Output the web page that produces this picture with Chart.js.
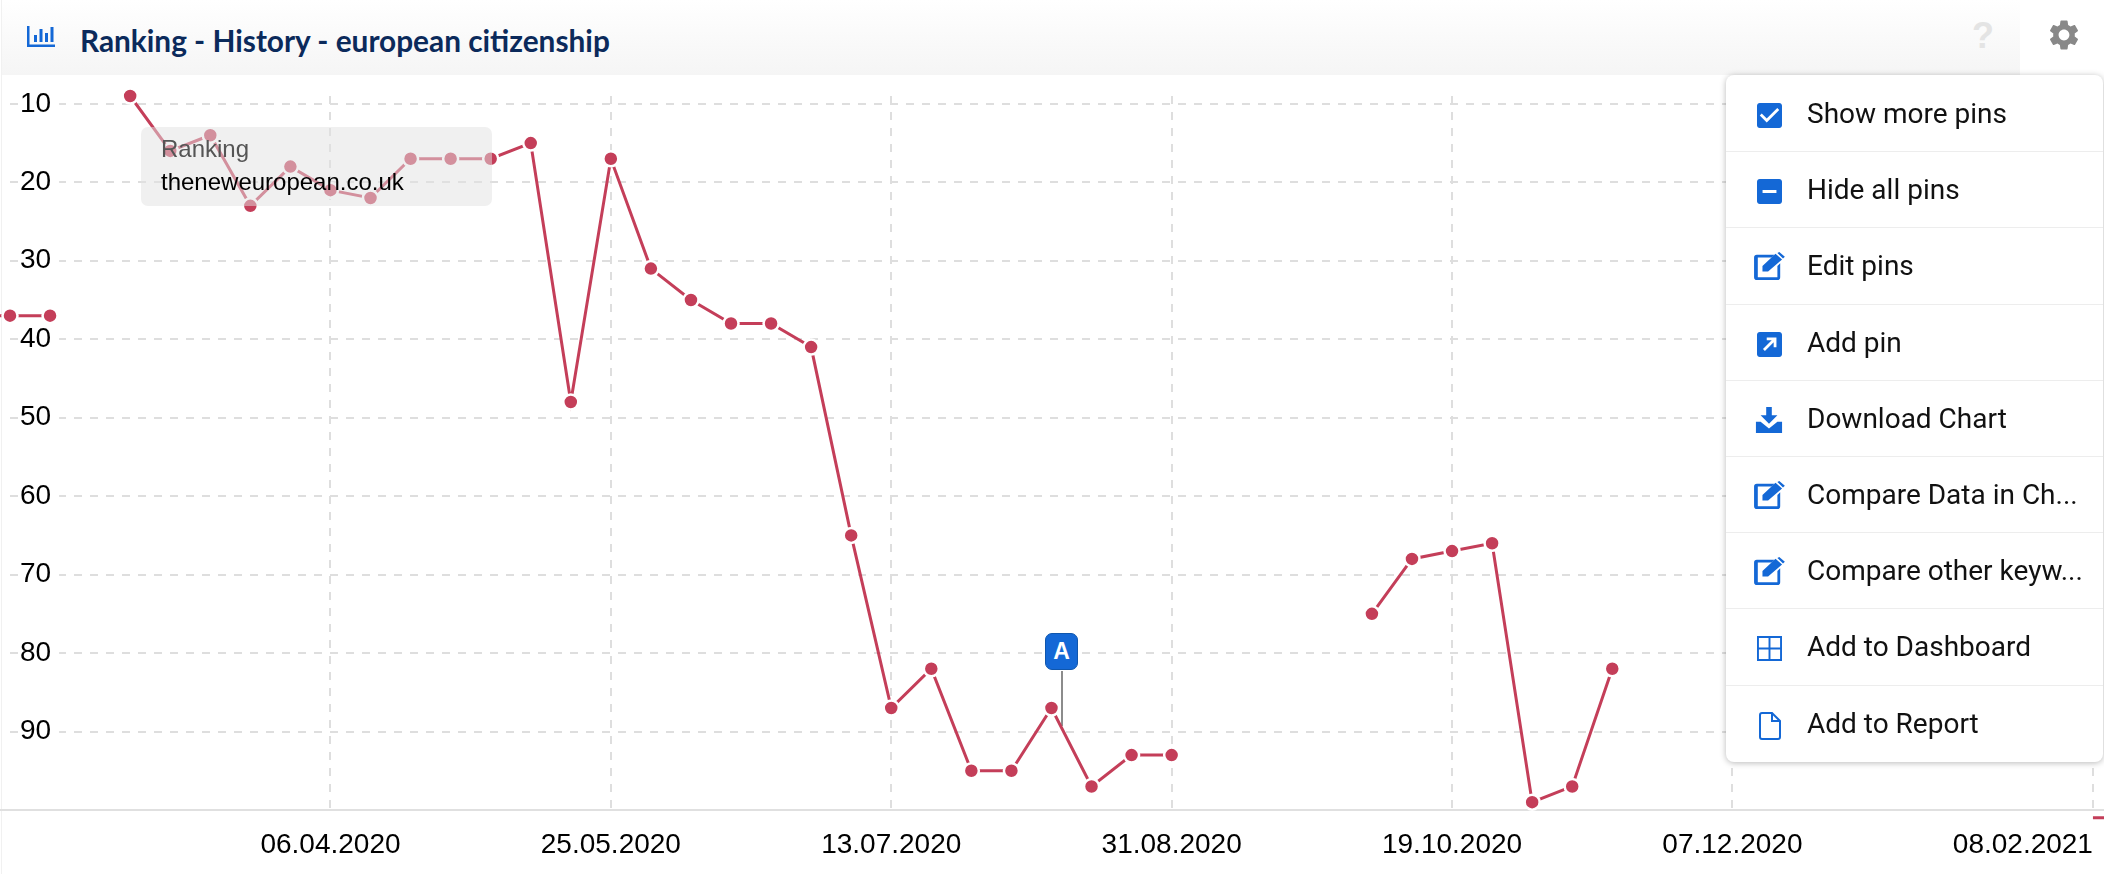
<!DOCTYPE html>
<html><head><meta charset="utf-8">
<script src="https://cdn.jsdelivr.net/npm/chart.js@4"></script>
<style>
html,body{margin:0;padding:0;width:2104px;height:874px;overflow:hidden;background:#fff}
#wrap{position:relative;width:2104px;height:874px;overflow:hidden}
#edge{position:absolute;left:1px;top:0;width:1px;height:874px;background:#f1f1f1}
#axisline{position:absolute;left:0;top:809px;width:2104px;height:2px;background:#e0e0e0}
#stem{position:absolute;left:1061px;top:671px;width:2px;height:55px;background:#8c8c8c}
canvas{position:absolute;left:0;top:0}
#header{position:absolute;left:2px;top:0;width:2018px;height:75px;background:linear-gradient(#fff,#f5f5f5);border-top-left-radius:8px}
#title{position:absolute;left:78px;top:23px;font:700 29.8px Lato,sans-serif;color:#0b2a5b;white-space:nowrap}
#help{position:absolute;left:1970px;top:15px;font:700 36px "Liberation Sans",sans-serif;color:#e4e4e4}
#gear{position:absolute;left:2046px;top:17px}
#tip{position:absolute;left:141px;top:127px;width:351px;height:79px;border-radius:7px;background:rgba(225,225,225,.5);font:24px "Liberation Sans",sans-serif}
#tip div{position:absolute;left:20px;white-space:nowrap}
#pin{position:absolute;left:1045px;top:633px;width:31px;height:35px;border:1.5px solid #0f56ad;border-radius:7px;background:#1468d6;color:#fff;font:700 23px/35px "Liberation Sans",sans-serif;text-align:center}
#menu{position:absolute;left:1726px;top:75px;width:377px;height:687px;background:#fff;border-radius:8px;box-shadow:0 1px 6px rgba(0,0,0,.28)}
.row{position:absolute;left:0;width:100%;height:76.2px;box-sizing:border-box;border-bottom:1px solid #ededed}
.row:last-child{border-bottom:0}
.row span{position:absolute;left:81px;top:19px;font:28px/38px Roboto,sans-serif;color:#111;white-space:nowrap}
.row svg{position:absolute;fill:#1468d6}
</style></head>
<body>
<div id="wrap">
<div id="edge"></div>
<div id="axisline"></div>
<div id="stem"></div>
<canvas id="c" width="2143" height="874"></canvas>
<div id="header">
<svg style="position:absolute;left:25px;top:26px" width="28" height="22" viewBox="0 0 28 22" fill="#1468d6"><path d="M0 0h2.5v18.500H28V21H0z"/><rect x="7" y="9" width="3" height="7"/><rect x="12.500" y="3" width="3" height="13"/><rect x="18" y="7" width="3" height="9"/><rect x="23.500" y="1" width="3" height="15"/></svg>
<div id="title">Ranking - History - european citizenship</div>
<div id="help">?</div>
</div>
<svg id="gear" width="36" height="36" viewBox="0 0 24 24" fill="#888"><path d="M19.14 12.94c.04-.3.06-.61.06-.94 0-.32-.02-.64-.07-.94l2.03-1.58c.18-.14.23-.41.12-.61l-1.92-3.32c-.12-.22-.37-.29-.59-.22l-2.39.96c-.5-.38-1.03-.7-1.62-.94l-.36-2.54c-.04-.24-.24-.41-.48-.41h-3.84c-.24 0-.43.17-.47.41l-.36 2.54c-.59.24-1.13.57-1.62.94l-2.39-.96c-.22-.08-.47 0-.59.22L2.74 8.87c-.12.21-.08.47.12.61l2.03 1.58c-.05.3-.09.63-.09.94s.02.64.07.94l-2.03 1.58c-.18.14-.23.41-.12.61l1.92 3.32c.12.22.37.29.59.22l2.39-.96c.5.38 1.03.7 1.62.94l.36 2.54c.05.24.24.41.48.41h3.84c.24 0 .44-.17.47-.41l.36-2.54c.59-.24 1.13-.56 1.62-.94l2.39.96c.22.08.47 0 .59-.22l1.92-3.32c.12-.22.07-.47-.12-.61l-2.01-1.58zM12 15.6c-1.98 0-3.6-1.62-3.6-3.6s1.62-3.6 3.6-3.6 3.6 1.62 3.6 3.6-1.62 3.6-3.6 3.6z"/></svg>
<div id="tip"><div style="top:8px;color:#555">Ranking</div><div style="top:41px;color:#000">theneweuropean.co.uk</div></div>
<div id="pin">A</div>
<div id="menu"></div>
</div>
<script>
const dates = ['03.02.2020','10.02.2020','17.02.2020','24.02.2020','02.03.2020','09.03.2020','16.03.2020','23.03.2020','30.03.2020','06.04.2020','13.04.2020','20.04.2020','27.04.2020','04.05.2020','11.05.2020','18.05.2020','25.05.2020','01.06.2020','08.06.2020','15.06.2020','22.06.2020','29.06.2020','06.07.2020','13.07.2020','20.07.2020','27.07.2020','03.08.2020','10.08.2020','17.08.2020','24.08.2020','31.08.2020','07.09.2020','14.09.2020','21.09.2020','28.09.2020','05.10.2020','12.10.2020','19.10.2020','26.10.2020','02.11.2020','09.11.2020','16.11.2020','23.11.2020','30.11.2020','07.12.2020','14.12.2020','21.12.2020','28.12.2020','04.01.2021','11.01.2021','18.01.2021','25.01.2021','01.02.2021','08.02.2021','15.02.2021'];
const ranking = [37,37,37,null,9,16,14,23,18,21,22,17,17,17,15,48,17,31,35,38,38,41,65,87,82,95,95,87,97,93,93,null,null,null,null,75,68,67,66,99,97,82,null,null,null,null,null,null,null,null,null,null,null,101,101];
const xTickLabels = ['06.04.2020','25.05.2020','13.07.2020','31.08.2020','19.10.2020','07.12.2020','08.02.2021'];
const yTicks = [10,20,30,40,50,60,70,80,90];
const menuItems = ['Show more pins','Hide all pins','Edit pins','Add pin','Download Chart','Compare Data in Ch...','Compare other keyw...','Add to Dashboard','Add to Report'];

const editIcon = '<svg style="left:27px;top:24px" width="32" height="28" viewBox="0 0 34 30"><path d="M4 3h19l-3 3H5v21h21V15l3-3v15a3 3 0 0 1-3 3H4a3 3 0 0 1-3-3V6a3 3 0 0 1 3-3z"/><path d="M10 21v-6L24 2l7 6-15 13zM26 1l2-1 6 5-2 2z"/></svg>';
const icons = [
 '<svg style="left:31px;top:27px" width="25" height="25" viewBox="3 3 18 18"><path d="M19 3H5c-1.110 0-2 .9-2 2v14c0 1.100.89 2 2 2h14c1.110 0 2-.9 2-2V5c0-1.100-.89-2-2-2zm-9 14l-5-5 1.410-1.410L10 14.170l7.590-7.590L19 8l-9 9z"/></svg>',
 '<svg style="left:31px;top:27px" width="25" height="25" viewBox="3 3 18 18"><path d="M19 3H5c-1.100 0-2 .9-2 2v14c0 1.100.9 2 2 2h14c1.100 0 2-.9 2-2V5c0-1.100-.9-2-2-2zm-2 10H7v-2h10v2z"/></svg>',
 editIcon,
 '<svg style="left:31px;top:27px" width="25" height="25" viewBox="3 3 18 18"><path d="M19 3H5c-1.100 0-2 .9-2 2v14c0 1.100.9 2 2 2h14c1.100 0 2-.9 2-2V5c0-1.100-.9-2-2-2zM10 7h7v7h-2v-3.600l-6.300 6.300-1.400-1.400L13.600 9H10z"/></svg>',
 '<svg style="left:29px;top:25px" width="28" height="28" viewBox="0 0 30 30"><path d="M12 1h6v9h6l-9 9-9-9h6zM1 17h5l9 7 9-7h5v12H1z"/></svg>',
 editIcon, editIcon,
 '<svg style="left:31px;top:27px;fill:none;stroke:#1468d6;stroke-width:2" width="25" height="25" viewBox="0 0 26 26"><path d="M1 1h24v24H1zM13 1v24M1 13h24"/></svg>',
 '<svg style="left:33px;top:26px;fill:none;stroke:#1468d6;stroke-width:2" width="22" height="28" viewBox="0 0 22 28"><path d="M3 1h10l8 8v16a2 2 0 0 1-2 2H3a2 2 0 0 1-2-2V3a2 2 0 0 1 2-2zM13 1v8h8"/></svg>'
];
document.getElementById('menu').innerHTML = menuItems.map((t,i)=>
 `<div class="row" style="top:${i*76.2+1}px">${icons[i]}<span>${t}</span></div>`).join('');

const red = '#c43e59';
const points = ranking.map((y,i)=>({x:i,y}));
const alignLastLabel = {
  id:'alignLastLabel',
  beforeDraw(chart){
    const items = chart.scales.x.getLabelItems();
    const last = items[items.length-1];
    if(last) last.options.textAlign = 'right';
  }
};
const noMargins = s => { s.paddingLeft=s.paddingRight=s.paddingTop=s.paddingBottom=0; };
new Chart(document.getElementById('c'),{
  type:'line',
  data:{datasets:[{
    data:points, borderColor:red, borderWidth:3, backgroundColor:red,
    pointBackgroundColor:red, pointBorderColor:'#fff', pointBorderWidth:2.5,
    pointRadius:ctx=> (ctx.raw && ctx.raw.y>100) ? 0 : 7.5,
    pointHoverRadius:7.5, tension:0, spanGaps:false, clip:false
  }]},
  options:{
    responsive:false, animation:false,
    layout:{padding:{left:10,top:96,right:0,bottom:0}},
    plugins:{legend:{display:false},tooltip:{enabled:false}},
    scales:{
      x:{type:'linear',min:1,max:54,
        afterBuildTicks:s=>{s.ticks=xTickLabels.map(l=>({value:dates.indexOf(l)}));},
        afterFit:s=>{s.height=64;noMargins(s);},
        grid:{color:'#dedede',lineWidth:2,drawTicks:false},
        border:{display:true,color:'#e0e0e0',width:2,dash:[8,8]},
        ticks:{autoSkip:false,maxRotation:0,minRotation:0,padding:18,color:'#000',
          font:{family:'"Liberation Sans"',size:28},
          callback:v=>dates[v]}
      },
      y:{type:'linear',reverse:true,min:9,max:100,
        afterBuildTicks:s=>{s.ticks=yTicks.map(v=>({value:v}));},
        afterFit:s=>{s.width=0;noMargins(s);},
        grid:{color:'#dedede',lineWidth:2,drawTicks:false},
        border:{display:false,dash:[8,8]},
        ticks:{mirror:true,padding:10,color:'#000',autoSkip:false,
          font:{family:'"Liberation Sans"',size:28},
          showLabelBackdrop:true,backdropColor:'#fff',
          backdropPadding:{left:1,right:8,top:0,bottom:0}}
      }
    }
  },
  plugins:[alignLastLabel]
});
</script>
</body></html>
